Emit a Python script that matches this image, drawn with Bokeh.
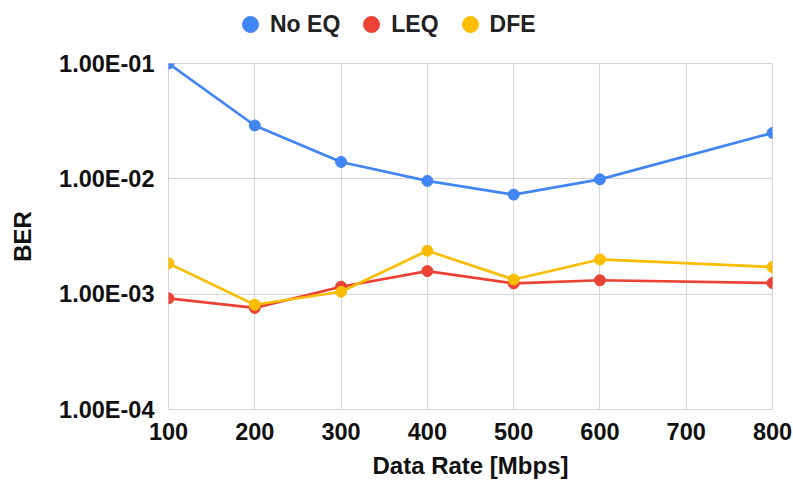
from bokeh.plotting import figure
from bokeh.layouts import column
from bokeh.models import (Range1d, FixedTicker, CustomJSTickFormatter, Legend, LegendItem)
from bokeh.embed import file_html
from bokeh.resources import INLINE

# ---- data ----
data_rate = [100, 200, 300, 400, 500, 600, 800]
ber_no_eq = [0.1, 0.029, 0.0140, 0.0096, 0.0073, 0.0099, 0.025]
ber_leq = [9.2e-4, 7.6e-4, 1.16e-3, 1.585e-3, 1.24e-3, 1.32e-3, 1.25e-3]
ber_dfe = [1.85e-3, 8.1e-4, 1.05e-3, 2.38e-3, 1.34e-3, 2.0e-3, 1.72e-3]

x_ticks = [100, 200, 300, 400, 500, 600, 700, 800]
y_ticks = [1e-4, 1e-3, 1e-2, 1e-1]
y_tick_labels = ["1.00E-04", "1.00E-03", "1.00E-02", "1.00E-01"]

series_names = ["No EQ", "LEQ", "DFE"]
series_colors = ["#4285F4", "#EA4335", "#FBBC04"]

FONT = "Liberation Sans"
GRID = "#d6d6d6"

# ---- main chart ----
p = figure(width=793, height=433, y_axis_type="log",
           x_range=Range1d(100, 800), y_range=Range1d(1e-4, 1e-1),
           output_backend="svg", toolbar_location=None,
           min_border_left=168, min_border_right=21,
           min_border_top=15, min_border_bottom=72)

p.background_fill_color = "white"
p.border_fill_color = "white"
p.outline_line_color = GRID
p.outline_line_width = 1

p.xaxis.ticker = FixedTicker(ticks=x_ticks)
p.yaxis.ticker = FixedTicker(ticks=y_ticks, minor_ticks=[])
p.yaxis.formatter = CustomJSTickFormatter(args=dict(vals=y_ticks, labs=y_tick_labels), code="""
    let best = 0, bd = 1e9;
    for (let i = 0; i < vals.length; i++) {
        const d = Math.abs(Math.log10(vals[i]) - Math.log10(tick));
        if (d < bd) { bd = d; best = i; }
    }
    return labs[best];
""")

for ax in (p.xaxis, p.yaxis):
    ax.axis_line_color = None
    ax.major_tick_line_color = None
    ax.minor_tick_line_color = None
    ax.major_tick_out = 0
    ax.minor_tick_out = 0
    ax.major_label_text_font = FONT
    ax.major_label_text_font_style = "bold"
    ax.major_label_text_font_size = "23.5px"
    ax.major_label_text_color = "#111111"
    ax.axis_label_text_font = FONT
    ax.axis_label_text_font_style = "bold"
    ax.axis_label_text_font_size = "24px"
    ax.axis_label_text_color = "#111111"

p.xaxis.axis_label = "Data Rate [Mbps]"
p.yaxis.axis_label = "BER"
p.xaxis.major_label_standoff = 13
p.yaxis.major_label_standoff = 14
p.xaxis.axis_label_standoff = 9
p.yaxis.axis_label_standoff = 20

p.xgrid.grid_line_color = GRID
p.ygrid.grid_line_color = GRID
p.ygrid.minor_grid_line_color = None

series = [ber_no_eq, ber_leq, ber_dfe]
for name, color, vals in zip(series_names, series_colors, series):
    p.line(data_rate, vals, line_color=color, line_width=2.7)
    p.scatter(data_rate, vals, size=11, fill_color=color, line_color=color)

# ---- legend strip (frame aligned with main chart's frame) ----
lg = figure(width=793, height=48, output_backend="svg", toolbar_location=None,
            x_axis_location=None, y_axis_location=None,
            min_border=0, x_range=Range1d(0, 1), y_range=Range1d(0, 1))
lg.outline_line_color = None
lg.grid.visible = False
lg.background_fill_color = "white"
lg.border_fill_color = "white"

items = []
for name, color, vals in zip(series_names, series_colors, series):
    # same data, lies outside this strip's ranges -> only its legend glyph shows
    r = lg.scatter(data_rate, vals, size=16, fill_color=color, line_color=color)
    items.append(LegendItem(label=name, renderers=[r]))

legend = Legend(items=items, orientation="horizontal", location=(62, 4),
                glyph_width=40, glyph_height=40, label_standoff=0, spacing=11,
                padding=0, margin=0, border_line_color=None,
                background_fill_alpha=0,
                label_text_font=FONT, label_text_font_style="bold",
                label_text_font_size="23px", label_text_color="#222222")
lg.add_layout(legend, "center")

layout = column(lg, p, spacing=0)
open("out.html", "w").write(file_html(layout, INLINE))
